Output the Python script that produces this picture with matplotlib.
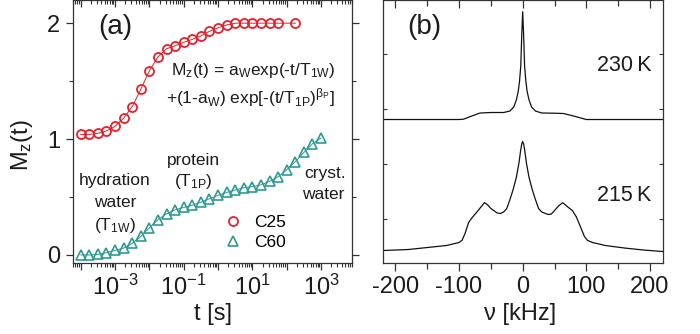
import matplotlib
matplotlib.use("Agg")
import matplotlib.pyplot as plt
from matplotlib.ticker import FixedLocator, LogLocator, NullFormatter
import numpy as np

plt.rcParams['font.family'] = ['Liberation Sans', 'DejaVu Sans']
plt.rcParams['mathtext.default'] = 'regular'
plt.rcParams['axes.unicode_minus'] = False

# ---- panel (a): magnetisation recovery ----
c25_exp = [-4.0, -3.75, -3.5, -3.25, -3.0, -2.75, -2.5, -2.25, -2.0, -1.75,
           -1.5, -1.25, -1.0, -0.75, -0.5, -0.25, 0.0, 0.25, 0.5, 0.75,
           1.0, 1.25, 1.5, 1.75, 2.25]
c25_mz = [1.04, 1.04, 1.05, 1.07, 1.11, 1.18, 1.28, 1.43, 1.59, 1.71,
          1.78, 1.805, 1.835, 1.86, 1.89, 1.93, 1.96, 1.985, 2.0, 2.0,
          2.0, 2.0, 2.0, 2.0, 2.0]

c60_exp = [-4.0, -3.75, -3.5, -3.25, -3.0, -2.75, -2.5, -2.25, -2.0, -1.75,
           -1.5, -1.25, -1.0, -0.75, -0.5, -0.25, 0.0, 0.25, 0.5, 0.75,
           1.0, 1.25, 1.5, 1.75, 2.0, 2.25, 2.5, 2.75, 3.0]
c60_mz = [0.0, 0.0, 0.005, 0.02, 0.04, 0.06, 0.1, 0.16, 0.235, 0.305,
          0.355, 0.39, 0.41, 0.43, 0.455, 0.485, 0.515, 0.54, 0.56, 0.58,
          0.59, 0.605, 0.635, 0.675, 0.735, 0.805, 0.885, 0.96, 1.01]

t_exps = [-4, -3, -2, -1, 0, 1, 2, 3]
t_labels = ['', r'$10^{-3}$', '', r'$10^{-1}$', '', r'$10^{1}$', '', r'$10^{3}$']

# ---- panel (b): spectra (arbitrary intensity units) ----
nu_230 = [-220, -150, -100, -93, -80, -67, -50, -30, -20, -14, -10, -7, -5,
          -3, -1.5, 0, 1.5, 3, 5, 7, 10, 14, 20, 30, 50, 64, 80, 100, 150, 220]
int_230 = [143, 143, 143, 143.3, 146.5, 149.5, 150, 150, 151.5, 155.5, 162.5,
           171, 181, 196.5, 227, 250.8, 227, 196.5, 181, 171, 162.5, 155.5,
           151.5, 149.5, 149.3, 149, 146.5, 143, 143, 143]

nu_215 = [-220, -180, -150, -120, -100, -95, -90, -85, -80, -70, -60, -55,
          -50, -40, -35, -30, -25, -20, -15, -10, -6, -3, -1.5, 0, 1.5, 3, 6,
          10, 15, 20, 25, 30, 40, 45, 50, 57, 63, 70, 78, 84, 90, 97, 102, 110,
          130, 160, 190, 220]
int_215 = [12, 13, 15, 17, 20, 22.5, 30, 40, 44.5, 52, 60, 57.5,
           54, 49.5, 49, 50.5, 54, 63, 73, 85, 99, 113, 118.5, 121, 118.5, 113, 99,
           85, 73, 63, 54, 50.5, 48, 48.5, 52, 57, 59.8, 56, 52, 46, 37, 26, 22, 20,
           17, 14.5, 12.5, 11]
spec_yticks = [44, 99, 154, 209]

red = '#e8202c'
teal = '#2f9a92'
ink = '#1c1c1c'

fig = plt.figure(figsize=(7, 3.34), dpi=100)
ax1 = fig.add_axes([0.1039, 0.214, 0.3994, 0.786])
ax2 = fig.add_axes([0.5476, 0.214, 0.3991, 0.786])

for ax in (ax1, ax2):
    for s in ax.spines.values():
        s.set_linewidth(0.9)
        s.set_color('#333333')

# (a)
t25 = [10 ** e for e in c25_exp]
t60 = [10 ** e for e in c60_exp]
ax1.plot(t25, c25_mz, '-', color=red, lw=0.7)
ax1.plot(t25, c25_mz, 'o', mfc='none', mec=red, mew=1.3, ms=6.5, label='C25')
ax1.plot(t60, c60_mz, '-', color=teal, lw=0.7)
ax1.plot(t60, c60_mz, '^', mfc='none', mec=teal, mew=1.2, ms=7.5, label='C60')
ax1.set_xscale('log')
ax1.set_xlim(10 ** -4.233, 10 ** 3.91)
ax1.set_ylim(-0.065, 2.2)
ax1.set_xticks([10.0 ** e for e in t_exps], t_labels)
ax1.xaxis.set_minor_locator(LogLocator(base=10, subs=np.arange(2, 10), numticks=20))
ax1.xaxis.set_minor_formatter(NullFormatter())
ax1.set_yticks([0, 1, 2])
ax1.yaxis.set_minor_locator(FixedLocator([0.5, 1.5]))
ax1.tick_params(which='both', direction='out', labelsize=17, colors='#333333',
                labelcolor=ink, pad=4)
ax1.tick_params(which='major', length=5, width=0.9)
ax1.tick_params(which='minor', length=3, width=0.8)
ax1.tick_params(axis='x', which='both', top=True)
ax1.tick_params(axis='y', which='both', right=True)
for t in ax1.xaxis.get_ticklines(minor=False)[1::2] + ax1.xaxis.get_ticklines(minor=True)[1::2]:
    t.set_marker(3)  # top ticks point inward
ax1.set_xlabel('t [s]', fontsize=17, color=ink)
ax1.xaxis.set_label_coords(0.5, -0.155)
ax1.set_ylabel(r'$M_z(t)$', fontsize=17, color=ink)
ax1.yaxis.set_label_coords(-0.135, 0.448)

ax1.text(0.092, 0.898, '(a)', transform=ax1.transAxes, fontsize=20,
         ha='left', va='center', color=ink)
ax1.text(0.352, 0.733, r'$M_z$(t) = $a_W$exp(-t/$T_{1W}$)', transform=ax1.transAxes,
         fontsize=12.5, ha='left', va='center', color=ink)
ax1.text(0.334, 0.627, r'+(1-$a_W$) exp[-(t/$T_{1P}$)$^{\beta_P}$]',
         transform=ax1.transAxes, fontsize=12.5, ha='left', va='center', color=ink)
for s, x, y in [('hydration', 115, 180), ('water', 115, 202), (r'($T_{1W}$)', 115, 225),
                ('protein', 193, 160), (r'($T_{1P}$)', 193, 181),
                ('cryst.', 325, 173), ('water', 323, 194)]:
    ax1.text((x - 72.7) / 279.6, (262.5 - y) / 262.5, s, transform=ax1.transAxes,
             fontsize=12.5, ha='center', va='center', color=ink)
ax1.legend(loc='center left', bbox_to_anchor=(0.542, 0.114), frameon=False,
           fontsize=12.5, handlelength=1.0, handletextpad=0.7, borderpad=0,
           borderaxespad=0, labelspacing=0.25, numpoints=1)

# (b)
ax2.plot(nu_230, int_230, color='#111111', lw=0.9)
ax2.plot(nu_215, int_215, color='#111111', lw=0.9)
ax2.set_xlim(-219, 220)
ax2.set_ylim(0, 262.5)
ax2.set_xticks([-200, -100, 0, 100, 200])
ax2.set_xticks([-150, -50, 50, 150], minor=True)
ax2.set_yticks(spec_yticks)
ax2.tick_params(axis='x', which='both', direction='out', labelsize=17,
                colors='#333333', labelcolor=ink, pad=4, top=True)
ax2.tick_params(axis='x', which='major', length=6, width=0.9)
ax2.tick_params(axis='x', which='minor', length=4, width=0.9)
for t in ax2.xaxis.get_ticklines(minor=False)[1::2] + ax2.xaxis.get_ticklines(minor=True)[1::2]:
    t.set_marker(3)
ax2.tick_params(axis='y', direction='in', left=True, right=True, labelleft=False,
                length=3, width=0.8, colors='#333333')
ax2.set_xlabel('ν [kHz]', fontsize=17, color=ink)
ax2.xaxis.set_label_coords(0.49, -0.155)
ax2.text(0.084, 0.898, '(b)', transform=ax2.transAxes, fontsize=20,
         ha='left', va='center', color=ink)
ax2.text(0.961, 0.752, '230\u2009K', transform=ax2.transAxes, fontsize=15.5,
         ha='right', va='center', color=ink)
ax2.text(0.960, 0.257, '215\u2009K', transform=ax2.transAxes, fontsize=15.5,
         ha='right', va='center', color=ink)

fig.savefig('out.png', dpi=100)
